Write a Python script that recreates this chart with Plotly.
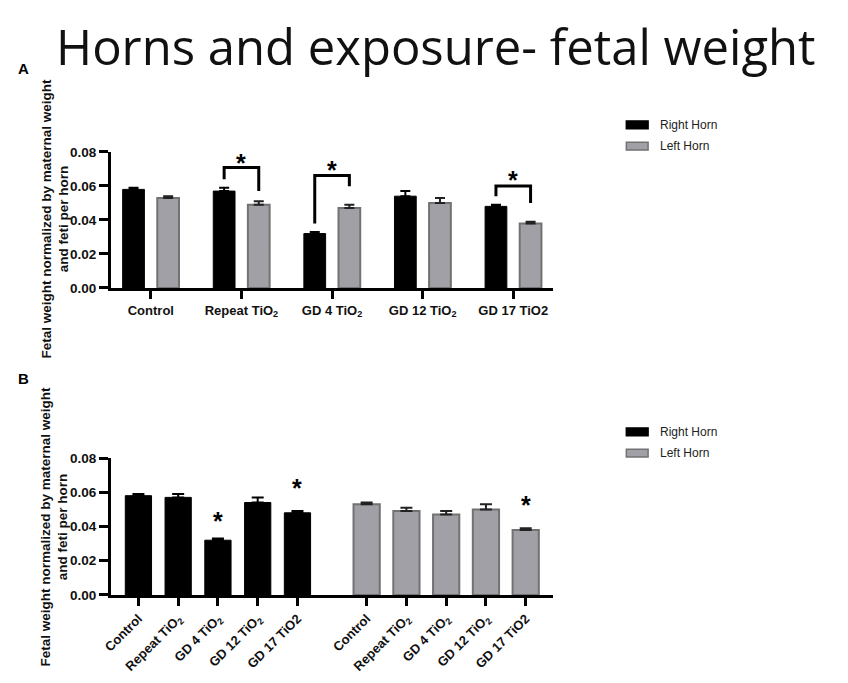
import plotly.graph_objects as go

# ---------------- data ----------------
categories = ["Control", "Repeat TiO<sub>2</sub>", "GD 4 TiO<sub>2</sub>", "GD 12 TiO<sub>2</sub>", "GD 17 TiO2"]
right_horn = [0.058, 0.057, 0.032, 0.054, 0.048]
right_err = [0.001, 0.002, 0.001, 0.003, 0.001]
left_horn = [0.053, 0.049, 0.047, 0.050, 0.038]
left_err = [0.001, 0.002, 0.002, 0.003, 0.001]
y_ticks = [0.00, 0.02, 0.04, 0.06, 0.08]
series_names = ["Right Horn", "Left Horn"]

# significance brackets in panel A: (category index, left leg end, top, right leg end, star y)
brackets_a = [
    (1, 0.0639, 0.0708, 0.0570, 0.0772),
    (2, 0.0380, 0.0662, 0.0599, 0.0728),
    (4, 0.0540, 0.0600, 0.0500, 0.0668),
]
# significance stars in panel B: (series, category index, y)
stars_b = [
    (0, 2, 0.0470),
    (0, 4, 0.0660),
    (1, 4, 0.0560),
]

# ---------------- layout helpers ----------------
# page body has an 8px default margin, so the figure is 16px smaller than the window
OFF = 8
W, H = 848 - 2 * OFF, 683 - 2 * OFF
def px(x):
    return (x - OFF) / W
def py(y):
    return 1 - (y - OFF) / H

BLACK = "#000000"
GRAY = "#a0a0a6"
GRAY_EDGE = "#727272"
FONT = "Liberation Sans, Arial, sans-serif"

fig = go.Figure()

# ---------- Panel A ----------
xa = list(range(len(categories)))
half = 0.191
bw_a = 0.24
fig.add_trace(go.Bar(
    x=xa, y=right_horn, width=bw_a, offset=-half - bw_a / 2,
    marker=dict(color=BLACK, line=dict(color=BLACK, width=1)),
    error_y=dict(type="data", array=right_err, arrayminus=[0] * len(right_err), symmetric=False,
                 color=BLACK, thickness=2, width=5),
    name=series_names[0], showlegend=False, xaxis="x", yaxis="y"))
fig.add_trace(go.Bar(
    x=xa, y=left_horn, width=bw_a, offset=half - bw_a / 2,
    marker=dict(color=GRAY, line=dict(color=GRAY_EDGE, width=2)),
    error_y=dict(type="data", array=left_err, arrayminus=[0] * len(left_err), symmetric=False,
                 color="#222222", thickness=2, width=5),
    name=series_names[1], showlegend=False, xaxis="x", yaxis="y"))

shapes = []
annotations = []
for ci, yl, yt, yr, ys in brackets_a:
    x0, x1 = ci - half, ci + half
    shapes.append(dict(type="path", xref="x", yref="y",
                       path=f"M {x0},{yl} L {x0},{yt} L {x1},{yt} L {x1},{yr}",
                       line=dict(color=BLACK, width=3)))
    annotations.append(dict(x=ci, y=ys, xref="x", yref="y", text="<b>*</b>", showarrow=False,
                            font=dict(size=25, color=BLACK, family=FONT), yanchor="middle", yshift=-6))

# ---------- Panel B ----------
GROUP_GAP = 1.74
xb_right = [i for i in range(len(categories))]
xb_left = [i + len(categories) - 1 + GROUP_GAP for i in range(len(categories))]
bw_b = 0.66
fig.add_trace(go.Bar(
    x=xb_right, y=right_horn, width=bw_b, offset=-bw_b / 2,
    marker=dict(color=BLACK, line=dict(color=BLACK, width=1)),
    error_y=dict(type="data", array=right_err, arrayminus=[0] * len(right_err), symmetric=False,
                 color=BLACK, thickness=2, width=6),
    name=series_names[0], showlegend=False, xaxis="x2", yaxis="y2"))
fig.add_trace(go.Bar(
    x=xb_left, y=left_horn, width=bw_b, offset=-bw_b / 2,
    marker=dict(color=GRAY, line=dict(color=GRAY_EDGE, width=2)),
    error_y=dict(type="data", array=left_err, arrayminus=[0] * len(left_err), symmetric=False,
                 color="#222222", thickness=2, width=6),
    name=series_names[1], showlegend=False, xaxis="x2", yaxis="y2"))

for s, ci, ys in stars_b:
    xx = xb_right[ci] if s == 0 else xb_left[ci]
    annotations.append(dict(x=xx, y=ys, xref="x2", yref="y2", text="<b>*</b>", showarrow=False,
                            font=dict(size=25, color=BLACK, family=FONT), yanchor="middle", yshift=-6))

# ---------- axes ----------
ytick_font = dict(family=FONT, size=13.5, color="#111111", weight="bold")
xtick_font = dict(family=FONT, size=13, color="#111111", weight="bold")
common_y = dict(range=[0, 0.08], tickvals=y_ticks, tickformat=".2f", showgrid=False, zeroline=False,
                showline=True, linecolor=BLACK, linewidth=3, ticks="outside", ticklen=9, tickwidth=2.5,
                tickcolor=BLACK, tickfont=ytick_font, fixedrange=True)
common_x = dict(showgrid=False, zeroline=False, showline=True, linecolor=BLACK, linewidth=3,
                ticks="outside", ticklen=8, tickwidth=3, tickcolor=BLACK)

fig.update_layout(
    xaxis=dict(**common_x, domain=[px(103), px(550)], range=[-0.44, len(categories) - 1 + 0.44],
               tickvals=xa, ticktext=categories, anchor="y", tickfont=xtick_font),
    yaxis=dict(**common_y, domain=[py(289), py(149)], anchor="x"),
    xaxis2=dict(**common_x, domain=[px(103), px(550)],
                range=[-0.69, xb_left[-1] + 0.69],
                tickvals=xb_right + xb_left, ticktext=categories + categories, tickangle=-45, anchor="y2",
                tickfont=dict(family=FONT, size=13, color="#111111", weight="bold")),
    yaxis2=dict(**common_y, domain=[py(605), py(464)], anchor="x2"),
)

# y-axis titles
ytitle = "Fetal weight normalized by maternal weight<br>and feti per horn"
annotations.append(dict(x=px(46), y=py(218), xref="paper", yref="paper", text=ytitle, textangle=-90,
                        showarrow=False, font=dict(family=FONT, size=13.5, color="#111111", weight="bold"),
                        xanchor="center", yanchor="middle"))
annotations.append(dict(x=px(46), y=py(535), xref="paper", yref="paper", text=ytitle, textangle=-90,
                        showarrow=False, font=dict(family=FONT, size=13.5, color="#111111", weight="bold"),
                        xanchor="center", yanchor="middle"))

# panel letters
annotations.append(dict(x=px(7), y=py(63), xref="paper", yref="paper", text="<b>A</b>", showarrow=False,
                        font=dict(family=FONT, size=15, color=BLACK), xanchor="left", yanchor="middle"))
annotations.append(dict(x=px(7), y=py(382), xref="paper", yref="paper", text="<b>B</b>", showarrow=False,
                        font=dict(family=FONT, size=15, color=BLACK), xanchor="left", yanchor="middle"))

# main title (anchored at the top edge so its box stays inside the figure)
annotations.append(dict(x=px(432), y=1, xref="paper", yref="paper", text="Horns and exposure- fetal weight",
                        showarrow=False, font=dict(family="Open Sans", size=49, color="#111111"),
                        xanchor="center", yanchor="top", yshift=4))

# legends (drawn manually to match rectangular swatches)
for ly in (121, 437):
    for k, (name, fill, edge) in enumerate([(series_names[0], BLACK, BLACK), (series_names[1], GRAY, GRAY_EDGE)]):
        yc = ly + k * 22
        shapes.append(dict(type="rect", xref="paper", yref="paper",
                           x0=px(624), x1=px(646), y0=py(yc + 4), y1=py(yc - 4),
                           fillcolor=fill, line=dict(color=edge, width=1.5)))
        annotations.append(dict(x=px(656), y=py(yc), xref="paper", yref="paper", text=name, showarrow=False,
                                font=dict(family=FONT, size=12, color="#222222"),
                                xanchor="left", yanchor="middle"))

fig.update_layout(
    width=W, height=H, margin=dict(l=0, r=0, t=0, b=0),
    paper_bgcolor="white", plot_bgcolor="white",
    barmode="overlay", showlegend=False,
    shapes=shapes, annotations=annotations,
)

fig.write_html("out.html")
